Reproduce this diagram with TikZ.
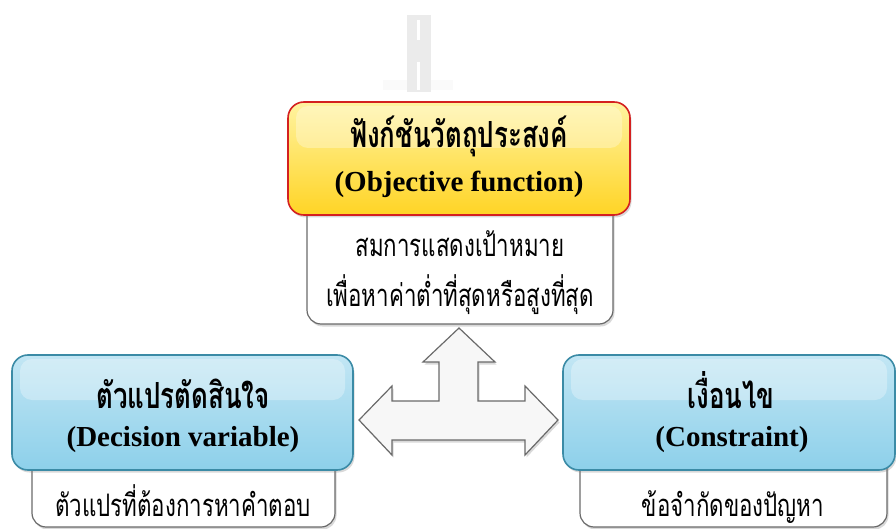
\documentclass[tikz,border=0pt]{standalone}
\usepackage{fontspec}
\setmainfont{Liberation Serif}
\newfontfamily\thai[Script=Thai, FakeStretch=0.72]{Loma}
\usetikzlibrary{shadows}
\definecolor{ybdr}{HTML}{D42020}
\definecolor{ytop}{HTML}{FFF3A0}
\definecolor{ybot}{HTML}{FFD425}
\definecolor{bbdr}{HTML}{3B8BA6}
\definecolor{btop}{HTML}{C2E6F4}
\definecolor{bbot}{HTML}{8DD0EA}
\definecolor{gbdr}{HTML}{6A6A6A}
\definecolor{wm}{HTML}{EBEBEB}
\begin{document}
\begin{tikzpicture}[x=1pt,y=-1pt,
  shad/.style={drop shadow={opacity=0.3, shadow xshift=1.5pt, shadow yshift=-2.5pt}},
  header/.style={draw, line width=1.6pt, rounded corners=16pt, inner sep=0pt, shad},
  yhead/.style={header, draw=ybdr, top color=ytop, bottom color=ybot},
  bhead/.style={header, draw=bbdr, top color=btop, bottom color=bbot},
  descbox/.style={draw=gbdr, line width=1.2pt, fill=white, rounded corners=14pt, inner sep=0pt, shad},
  gloss/.style={fill=white, fill opacity=0.3, rounded corners=12pt},
  eng/.style={font=\fontsize{29}{34}\selectfont\bfseries, inner sep=0pt, anchor=base},
  thh/.style={font=\thai\fontsize{36}{40}\selectfont\bfseries, inner sep=0pt, anchor=base, text height=24pt, text depth=2pt},
  thd/.style={font=\thai\fontsize{31}{36}\selectfont, inner sep=0pt, anchor=base, text height=20pt, text depth=3pt},
  bigarrow/.style={draw=gbdr, line width=1.2pt, fill=gray!6, line join=miter, shad}
]
\useasboundingbox (0,0) rectangle (896,529);
\clip (0,0) rectangle (896,529);

% watermark
\fill[gray!4] (383,80) rectangle (453,90);
\fill[wm] (407,15) rectangle (431,92);
\fill[white] (417,20) rectangle (420,40);
\fill[white] (417,62) rectangle (420,90);

% objective
\node[descbox, minimum width=306pt, minimum height=124pt] (objdesc) at (460,262) {};
\node[yhead, minimum width=342pt, minimum height=113pt] (obj) at (459,158.5) {};
\fill[gloss] (296,106) rectangle (622,148);
\node[thh] (objth) at (459,148) {ฟังก์ชันวัตถุประสงค์};
\node[eng] (objen) at (459,192) {(Objective function)};
\node[thd] (objd1) at (460,257) {สมการแสดงเป้าหมาย};
\node[thd] (objd2) at (460,306) {เพื่อหาค่าต่ำที่สุดหรือสูงที่สุด};

% decision variable
\node[descbox, minimum width=303pt, minimum height=100pt] (decdesc) at (183.5,477) {};
\node[bhead, minimum width=341pt, minimum height=115pt] (dec) at (182.5,412.5) {};
\fill[gloss] (20,359) rectangle (345,400);
\node[thh] (decth) at (183,408) {ตัวแปรตัดสินใจ};
\node[eng] (decen) at (183,446) {(Decision variable)};
\node[thd] (decd) at (183,516) {ตัวแปรที่ต้องการหาคำตอบ};

% constraint
\node[descbox, minimum width=307pt, minimum height=100pt] (condesc) at (733.5,477) {};
\node[bhead, minimum width=332pt, minimum height=115pt] (con) at (729,412.5) {};
\fill[gloss] (571,359) rectangle (887,400);
\node[thh] (conth) at (731,408) {เงื่อนไข};
\node[eng] (conen) at (732,446) {(Constraint)};
\node[thd] (cond) at (733,516) {ข้อจำกัดของปัญหา};

% three-way arrow
\draw[bigarrow] (359,420) -- (392,386) -- (392,401) -- (439,401) -- (439,362)
  -- (423,362) -- (459,328) -- (495,362) -- (478,362) -- (478,401)
  -- (525,401) -- (525,386) -- (558,420) -- (525,455) -- (525,440)
  -- (392,440) -- (392,455) -- cycle;
\end{tikzpicture}
\end{document}
